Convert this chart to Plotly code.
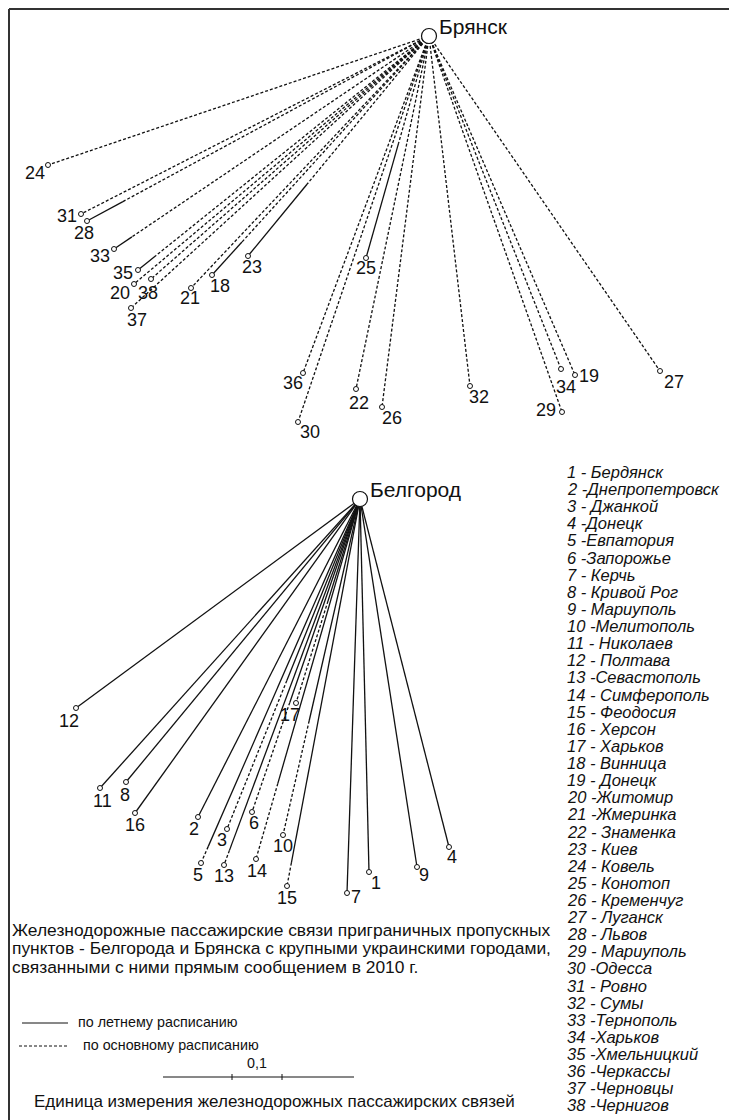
import plotly.graph_objects as go

# ---------------- data ----------------
hub_names = ["Брянск", "Белгород"]
hub_x = [429, 360]
hub_y = [36, 499]

# Bryansk-connected cities (ids 18..38)
br_ids = [18, 19, 20, 21, 22, 23, 24, 25, 26, 27, 28, 29, 30, 31, 32, 33, 34, 35, 36, 37, 38]
br_x = [212, 575, 134, 191, 356, 248, 48, 366, 382, 660, 87, 562, 298, 81, 470, 114, 561, 138, 303, 131, 151]
br_y = [275, 375, 284, 288, 389, 256, 165, 258, 407, 371, 221, 412, 422, 214, 386, 249, 369, 270, 373, 308, 279]
# share of the link drawn as summer schedule (solid, at the outer end)
br_summer = [0.138, 0, 0, 0, 0, 0.326, 0, 0.514, 0, 0, 0.105, 0, 0, 0, 0, 0.057, 0, 0.062, 0, 0, 0]

# Belgorod-connected cities (ids 1..17)
bg_ids = list(range(1, 18))
bg_x = [369, 198, 227, 449, 201, 252, 347, 126, 417, 283, 100, 76, 224, 256, 287, 135, 296]
bg_y = [872, 817, 829, 847, 863, 812, 893, 782, 867, 835, 788, 708, 865, 859, 886, 813, 703]
# share of the link drawn as main schedule (dashed, at the outer end)
bg_main = [0, 0, 0.45, 0, 0.045, 0.35, 0, 0, 0, 0.34, 0, 0, 0.04, 0.21, 0.06, 0, 0.5]

# label offsets (dx, dy) from each city point
br_ldx = [8, 14, -14, -1, 3, 4, -13, 0, 10, 14, -3, -16, 12, -14, 9, -14, 5, -15, -10, 6, -3]
br_ldy = [11, 1, 9, 10, 14, 11, 8, 10, 11, 11, 12, -2, 10, 2, 11, 7, 18, 3, 10, 12, 14]
bg_ldx = [7, -4, -5, 3, -3, 2, 9, -1, 7, 0, 2, -7, 0, 1, 0, 0, -6]
bg_ldy = [11, 12, 11, 10, 12, 11, 4, 13, 8, 11, 13, 13, 11, 12, 12, 12, 12]

city_names = [
    "Бердянск", "Днепропетровск", "Джанкой", "Донецк", "Евпатория", "Запорожье",
    "Керчь", "Кривой Рог", "Мариуполь", "Мелитополь", "Николаев", "Полтава",
    "Севастополь", "Симферополь", "Феодосия", "Херсон", "Харьков", "Винница",
    "Донецк", "Житомир", "Жмеринка", "Знаменка", "Киев", "Ковель", "Конотоп",
    "Кременчуг", "Луганск", "Львов", "Мариуполь", "Одесса", "Ровно", "Сумы",
    "Тернополь", "Харьков", "Хмельницкий", "Черкассы", "Черновцы", "Чернигов",
]
list_sep = [" - ", " -", " - ", " -", " -", " -", " - ", " - ", " - ", " -", " - ", " - ",
            " -", " - ", " - ", " - ", " - ", " - ", " - ", " -", " -", " - ", " - ", " - ",
            " - ", " - ", " - ", " - ", " - ", " -", " - ", " - ", " -", " -", " -", " -",
            " -", " -"]

caption_lines = [
    "Железнодорожные пассажирские связи приграничных пропускных",
    "пунктов - Белгорода и Брянска с крупными украинскими городами,",
    "связанными с ними прямым сообщением в 2010 г.",
]
legend_solid = "по летнему расписанию"
legend_dash = "по основному расписанию"
scale_label = "0,1"
scale_caption = "Единица измерения железнодорожных пассажирских связей"

# ---------------- figure ----------------
INK = "#111111"
FONT = "Liberation Sans, Arial, sans-serif"
DASH = "3px,2px"

fig = go.Figure()

solid_x, solid_y, dash_x, dash_y = [], [], [], []

# Bryansk: dashed from hub, solid at the outer end
hx, hy = hub_x[0], hub_y[0]
for x, y, s in zip(br_x, br_y, br_summer):
    f = 1 - s
    mx, my = hx + (x - hx) * f, hy + (y - hy) * f
    dash_x += [hx, mx, None]
    dash_y += [hy, my, None]
    if s > 0:
        solid_x += [mx, x, None]
        solid_y += [my, y, None]

# Belgorod: solid from hub, dashed at the outer end
hx, hy = hub_x[1], hub_y[1]
for x, y, m in zip(bg_x, bg_y, bg_main):
    f = 1 - m
    mx, my = hx + (x - hx) * f, hy + (y - hy) * f
    solid_x += [hx, mx, None]
    solid_y += [hy, my, None]
    if m > 0:
        dash_x += [mx, x, None]
        dash_y += [my, y, None]

fig.add_trace(go.Scatter(x=dash_x, y=dash_y, mode="lines",
                         line=dict(color=INK, width=1.3, dash=DASH), hoverinfo="skip"))
fig.add_trace(go.Scatter(x=solid_x, y=solid_y, mode="lines",
                         line=dict(color=INK, width=1.3), hoverinfo="skip"))

# city points
fig.add_trace(go.Scatter(x=br_x + bg_x, y=br_y + bg_y, mode="markers",
                         marker=dict(size=5, color="white", line=dict(color=INK, width=1)),
                         hoverinfo="skip"))
# hubs
fig.add_trace(go.Scatter(x=hub_x, y=hub_y, mode="markers",
                         marker=dict(size=15, color="white", line=dict(color=INK, width=1.2)),
                         hoverinfo="skip"))

ann = []
for i, x, y, dx, dy in zip(br_ids + bg_ids, br_x + bg_x, br_y + bg_y,
                           br_ldx + bg_ldx, br_ldy + bg_ldy):
    ann.append(dict(x=x + dx, y=y + dy, text=str(i), showarrow=False,
                    xanchor="center", yanchor="middle",
                    font=dict(family=FONT, size=18, color=INK)))

# hub names
for name, x, y in zip(hub_names, hub_x, hub_y):
    ann.append(dict(x=x + 8, y=y - 10, text=name, showarrow=False,
                    xanchor="left", yanchor="middle",
                    font=dict(family=FONT, size=21, color=INK)))

# numbered list of cities
for k, (name, sep) in enumerate(zip(city_names, list_sep)):
    ann.append(dict(x=565, y=472 + k * 17.12, text=f"{k + 1}{sep}{name}", showarrow=False,
                    xanchor="left", yanchor="middle",
                    font=dict(family=FONT, size=16.5, color=INK, style="italic")))

# caption
for k, t in enumerate(caption_lines):
    ann.append(dict(x=10, y=930 + k * 18.3, text=t, showarrow=False,
                    xanchor="left", yanchor="middle",
                    font=dict(family=FONT, size=17.4, color=INK)))

ann.append(dict(x=76, y=1022, text=legend_solid, showarrow=False, xanchor="left",
                yanchor="middle", font=dict(family=FONT, size=14.3, color=INK)))
ann.append(dict(x=81, y=1045, text=legend_dash, showarrow=False, xanchor="left",
                yanchor="middle", font=dict(family=FONT, size=14.3, color=INK)))
ann.append(dict(x=257, y=1063, text=scale_label, showarrow=False, xanchor="center",
                yanchor="middle", font=dict(family=FONT, size=14.3, color=INK)))
ann.append(dict(x=32, y=1101, text=scale_caption, showarrow=False, xanchor="left",
                yanchor="middle", font=dict(family=FONT, size=17, color=INK)))

shapes = [
    # frame
    dict(type="line", x0=9, y0=9, x1=729, y1=9, line=dict(color="#333", width=2)),
    dict(type="line", x0=9, y0=9, x1=9, y1=1120, line=dict(color="#333", width=2)),
    # legend samples
    dict(type="line", x0=22, y0=1023, x1=68, y1=1023, line=dict(color=INK, width=1)),
    dict(type="line", x0=19, y0=1046, x1=67, y1=1046, line=dict(color=INK, width=1, dash=DASH)),
    # scale bar
    dict(type="line", x0=163, y0=1077, x1=354, y1=1077, line=dict(color=INK, width=1)),
    dict(type="line", x0=232, y0=1074, x1=232, y1=1080, line=dict(color=INK, width=1)),
    dict(type="line", x0=282, y0=1074, x1=282, y1=1080, line=dict(color=INK, width=1)),
]

fig.update_layout(
    width=729, height=1120,
    margin=dict(l=0, r=0, t=0, b=0),
    paper_bgcolor="white", plot_bgcolor="white",
    showlegend=False,
    xaxis=dict(range=[0, 729], visible=False, fixedrange=True),
    yaxis=dict(range=[1120, 0], visible=False, fixedrange=True),
    annotations=ann,
    shapes=shapes,
)

fig.write_html("out.html", config={"displayModeBar": False},
               post_script="document.body.style.margin='0';document.body.style.overflow='hidden';")
